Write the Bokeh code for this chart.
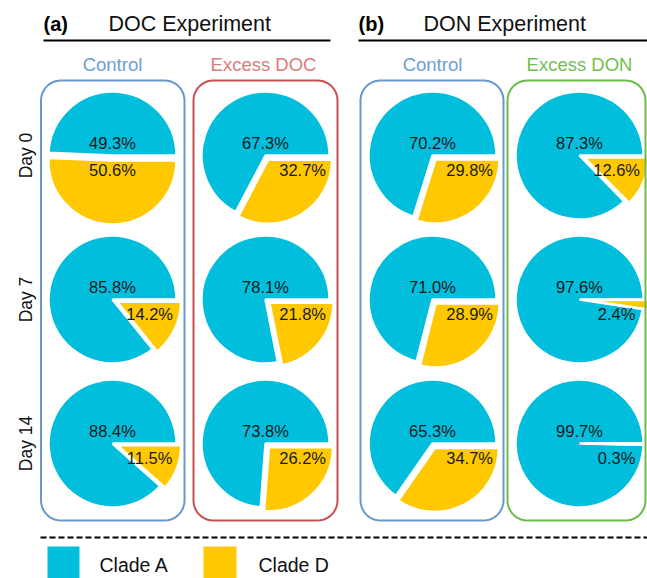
import numpy as np
from bokeh.plotting import figure
from bokeh.core.properties import value
from bokeh.embed import file_html
from bokeh.resources import INLINE

# ---------------- data ----------------
experiments = ["DOC Experiment", "DON Experiment"]
panel_tags = ["(a)", "(b)"]
conditions = ["Control", "Excess DOC", "Control", "Excess DON"]
days = ["Day 0", "Day 7", "Day 14"]
clades = ["Clade A", "Clade D"]

doc_control_A = [49.3, 85.8, 88.4]
doc_control_D = [50.6, 14.2, 11.5]
doc_excess_A = [67.3, 78.1, 73.8]
doc_excess_D = [32.7, 21.8, 26.2]
don_control_A = [70.2, 71.0, 65.3]
don_control_D = [29.8, 28.9, 34.7]
don_excess_A = [87.3, 97.6, 99.7]
don_excess_D = [12.6, 2.4, 0.3]

# ---------------- styles / layout ----------------
W, H = 647, 578
FONT = value("Liberation Sans")
COL_A = "#00bedc"
COL_D = "#ffc800"
box_colors = ["#6b98cc", "#c9504e", "#6b98cc", "#6cbd47"]
head_colors = ["#6c9ed6", "#dc7c7c", "#6c9ed6", "#72c052"]
col_x = [112, 265, 432, 579]
row_sy = [155, 299, 443]
R = 64
EXPLODE = 5


def Y(sy):
    return H - sy


p = figure(width=W, height=H, x_range=(0, W), y_range=(0, H),
           x_axis_type=None, y_axis_type=None, output_backend="svg",
           toolbar_location=None, min_border=0, outline_line_color=None)
p.grid.visible = False
p.background_fill_color = "white"

A_cols = [doc_control_A, doc_excess_A, don_control_A, don_excess_A]
D_cols = [doc_control_D, doc_excess_D, don_control_D, don_excess_D]

ax, ay, a_s, a_e = [], [], [], []
dx, dy, d_s, d_e = [], [], [], []
lab_x, lab_y, lab_t = [], [], []
for ci, (acol, dcol) in enumerate(zip(A_cols, D_cols)):
    for ri, (a, d) in enumerate(zip(acol, dcol)):
        cx, cy = col_x[ci], Y(row_sy[ri])
        ax.append(cx); ay.append(cy)
        a_s.append(0.0); a_e.append(a / 100 * 2 * np.pi)
        mid = -d / 100 * np.pi
        dx.append(cx + EXPLODE * np.cos(mid)); dy.append(cy + EXPLODE * np.sin(mid))
        d_s.append(-d / 100 * 2 * np.pi); d_e.append(0.0)
        lab_x.append(cx); lab_y.append(cy + 13); lab_t.append(f"{a:.1f}%")
        lab_x.append(cx + (0 if d >= 50 else 0.58 * R)); lab_y.append(cy - 14)
        lab_t.append(f"{d:.1f}%")

p.wedge(x=ax, y=ay, radius=R, start_angle=a_s, end_angle=a_e,
        fill_color=COL_A, line_color="white", line_width=2.5)
p.wedge(x=dx, y=dy, radius=R, start_angle=d_s, end_angle=d_e,
        fill_color=COL_D, line_color="white", line_width=2.5)
p.text(x=lab_x, y=lab_y, text=lab_t, text_font=FONT, text_font_size="16.5px",
       text_color="#1a1a1a", text_align="center", text_baseline="middle")


# rounded boxes
def rounded(l, r, t, b, rad, n=12):
    xs, ys = [], []
    corners = [(r - rad, t - rad, 0, np.pi / 2), (l + rad, t - rad, np.pi / 2, np.pi),
               (l + rad, b + rad, np.pi, 1.5 * np.pi), (r - rad, b + rad, 1.5 * np.pi, 2 * np.pi)]
    for (ccx, ccy, s, e) in corners:
        th = np.linspace(s, e, n)
        xs += list(ccx + rad * np.cos(th)); ys += list(ccy + rad * np.sin(th))
    xs.append(xs[0]); ys.append(ys[0])
    return xs, ys


box_lr = [(40.5, 184), (193, 337), (360, 503), (507, 645)]
for (l, r), c in zip(box_lr, box_colors):
    xs, ys = rounded(l, r, Y(80), Y(520), 20)
    p.line(xs, ys, line_color=c, line_width=2)

# column headers
head_x = [112, 263, 432, 579]
p.text(x=head_x, y=[Y(64)] * 4, text=conditions, text_color=head_colors,
       text_font=FONT, text_font_size="18.5px", text_align="center",
       text_baseline="middle")

# experiment titles
p.text(x=[43, 358], y=[Y(23)] * 2, text=panel_tags, text_font=FONT,
       text_font_size="20px", text_font_style="bold", text_color="black",
       text_align="left", text_baseline="middle")
p.text(x=[108, 423], y=[Y(23)] * 2, text=experiments, text_font=FONT,
       text_font_size="21.5px", text_color="#111111",
       text_align="left", text_baseline="middle")
p.segment(x0=[43, 358], y0=[Y(40)] * 2, x1=[330, 647], y1=[Y(40)] * 2,
          line_color="black", line_width=2)

# day labels
p.text(x=[25] * 3, y=[Y(s) for s in row_sy], text=days, angle=np.pi / 2,
       text_font=FONT, text_font_size="17.5px", text_color="#111111",
       text_align="center", text_baseline="middle")

# dashed separator
p.line([40, 647], [Y(537)] * 2, line_color="black", line_width=2, line_dash="6 3")

# legend
p.quad(left=[47, 203], right=[79, 236], top=[Y(546)] * 2, bottom=[Y(578)] * 2,
       fill_color=[COL_A, COL_D], line_color=None)
p.text(x=[99, 258], y=[Y(564)] * 2, text=clades, text_font=FONT,
       text_font_size="19.5px", text_color="#111111", text_align="left",
       text_baseline="middle")

open("out.html", "w").write(file_html(p, INLINE))
